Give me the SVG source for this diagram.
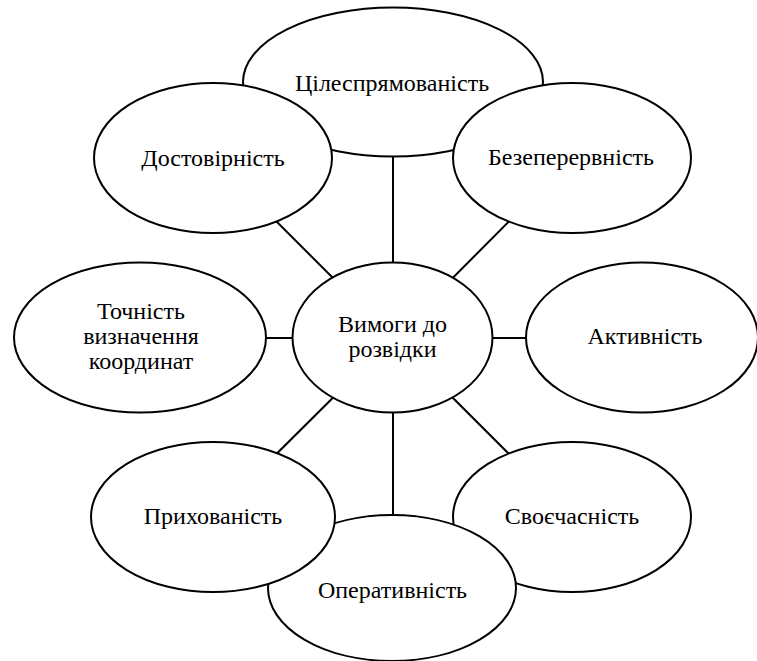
<svg xmlns="http://www.w3.org/2000/svg" width="757" height="661" viewBox="0 0 757 661">
<style>
.n{fill:#fff;stroke:#000;stroke-width:2}
.c{stroke:#000;stroke-width:2;fill:none}
.t{font-family:'Liberation Serif', 'Tinos', 'Times New Roman', 'DejaVu Serif', serif;font-size:24px;fill:#000;text-anchor:middle}
</style>
<rect width="757" height="661" fill="#fff"/>
<g id="connectors">
<line class="c" x1="393" y1="338" x2="393" y2="82"/>
<line class="c" x1="393" y1="338" x2="213" y2="158"/>
<line class="c" x1="393" y1="338" x2="572" y2="158"/>
<line class="c" x1="393" y1="338" x2="140" y2="338"/>
<line class="c" x1="393" y1="338" x2="642" y2="338"/>
<line class="c" x1="393" y1="338" x2="213" y2="517"/>
<line class="c" x1="393" y1="338" x2="572" y2="517"/>
<line class="c" x1="393" y1="338" x2="393" y2="588"/>
</g>
<g id="n-tsilespryamovanist">
<ellipse class="n" cx="393" cy="82" rx="150" ry="74.5"/>
<text class="t" x="392" y="91">Цілеспрямованість</text>
</g>
<g id="n-dostovirnist">
<ellipse class="n" cx="213" cy="158" rx="119" ry="75"/>
<text class="t" x="213" y="166">Достовірність</text>
</g>
<g id="n-bezperervnist">
<ellipse class="n" cx="572" cy="158" rx="119" ry="75"/>
<text class="t" x="571" y="165">Безеперервність</text>
</g>
<g id="n-tochnist">
<ellipse class="n" cx="140" cy="337.5" rx="126" ry="75"/>
<text class="t" x="141" y="319">Точність</text>
<text class="t" x="141" y="344">визначення</text>
<text class="t" x="141" y="369">координат</text>
</g>
<g id="n-center">
<ellipse class="n" cx="392.5" cy="337.5" rx="100" ry="75"/>
<text class="t" x="392.5" y="332">Вимоги до</text>
<text class="t" x="392.5" y="357">розвідки</text>
</g>
<g id="n-aktyvnist">
<ellipse class="n" cx="642" cy="337.5" rx="116" ry="75"/>
<text class="t" x="645" y="344">Активність</text>
</g>
<g id="n-svoechasnist">
<ellipse class="n" cx="572" cy="517" rx="119" ry="75"/>
<text class="t" x="572" y="524">Своєчасність</text>
</g>
<g id="n-operatyvnist">
<ellipse class="n" cx="392" cy="588" rx="124" ry="73"/>
<text class="t" x="392.5" y="598">Оперативність</text>
</g>
<g id="n-prykhovanist">
<ellipse class="n" cx="213" cy="517" rx="122" ry="75"/>
<text class="t" x="213" y="524">Прихованість</text>
</g>
</svg>
